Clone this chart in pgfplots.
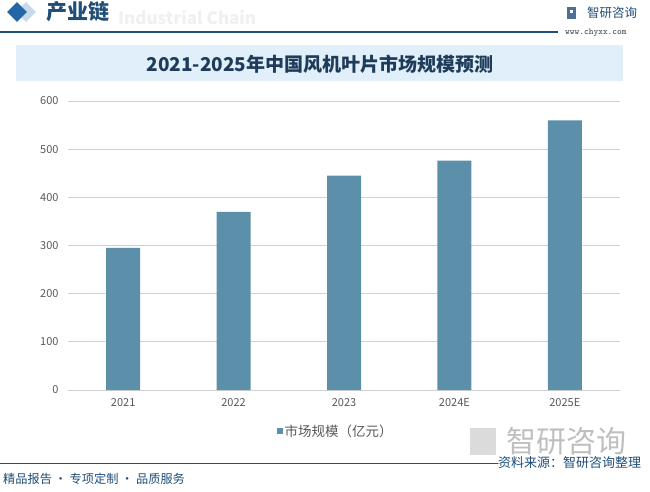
\documentclass[border=0pt]{standalone}
\usepackage{pgfplots}
\pgfplotsset{compat=1.18}
\usepackage{fontspec}
\setmainfont{Noto Sans CJK SC}
\usetikzlibrary{shapes.geometric}

\definecolor{barblue}{HTML}{5C8FA9}
\definecolor{headblue}{HTML}{1F4E79}
\definecolor{diablue}{HTML}{2366A6}
\definecolor{titleblue}{HTML}{1F3B5A}
\definecolor{bannerfill}{HTML}{E0EFF9}
\definecolor{ticktext}{HTML}{595959}

\begin{document}
\begin{tikzpicture}[x=1pt,y=1pt]
% page frame (1px = 1pt), y grows downwards as negative
\path[use as bounding box, fill=white] (0,0) rectangle (650,-492);

% header
\node[diamond, fill=diablue!25, minimum size=20pt, inner sep=0pt] at (26,-12) {};
\node[diamond, fill=diablue, minimum size=20pt, inner sep=0pt] at (17,-12) {};
\node[anchor=west, text=black!6, font=\bfseries\fontsize{17}{19}\selectfont, inner sep=0pt] at (118,-18) {Industrial Chain};
\node[anchor=west, text=headblue, font=\bfseries\fontsize{21}{23}\selectfont, inner sep=0pt] at (46,-12) {产业链};
\draw[headblue, line width=1.2pt] (0,-32) -- (558,-32);
\fill[headblue!80] (567,-7) rectangle (576,-19);
\fill[white] (570,-10) rectangle (573,-13);
\node[anchor=west, text=headblue, font=\fontsize{12.5}{14}\selectfont, inner sep=0pt] at (587,-13) {智研咨询};
\node[anchor=west, text=black!75, font=\ttfamily\fontsize{9}{11}\selectfont, inner sep=0pt] at (565,-33) {www.chyxx.com};

% title banner
\fill[bannerfill] (16,-45) rectangle (623,-81);
\node[text=titleblue, font=\bfseries\fontsize{19}{21}\selectfont] at (320,-64) {2021-2025年中国风机叶片市场规模预测};

% watermark logo bottom right
\node[anchor=west, text=black!25, font=\fontsize{30}{32}\selectfont, inner sep=0pt] at (506,-441) {智研咨询};
\fill[black!14] (470,-428) rectangle (496,-455);

\begin{axis}[
  at={(68pt,-390pt)}, anchor=south west,
  scale only axis, width=552pt, height=289pt,
  xmin=-0.5, xmax=4.5, ymin=0, ymax=600,
  ybar, bar width=34pt,
  xtick=data, xticklabels={2021,2022,2023,2024E,2025E},
  ytick={0,100,...,600},
  axis line style={draw=none},
  major tick length=0pt,
  ymajorgrids, grid style={black!18, line width=0.8pt},
  /pgf/number format/assume math mode=true,
  ticklabel style={text=ticktext, font=\fontsize{11}{13}\selectfont},
  yticklabel style={xshift=-6pt},
  xticklabel style={yshift=-5pt},
  legend style={at={(0.485,-0.142)}, anchor=center, draw=none, fill=none,
    font=\fontsize{13.5}{15}\selectfont, text=ticktext},
  legend image code/.code={\fill[barblue] (0pt,-3pt) rectangle (6pt,3pt);},
]
\addplot[fill=barblue, draw=none] coordinates {(0,295) (1,370) (2,445) (3,476) (4,560)};
\addlegendentry{市场规模（亿元）}
\end{axis}

% footer
\draw[headblue, line width=1pt] (0,-463) -- (500,-463);
\node[anchor=west, text=headblue, font=\fontsize{13}{15}\selectfont, inner sep=0pt, fill=white, fill opacity=0.6, text opacity=1] at (498,-463) {资料来源：智研咨询整理};
\node[anchor=west, text=headblue, font=\fontsize{12.2}{14}\selectfont, inner sep=0pt] at (3,-479) {精品报告 · 专项定制 · 品质服务};
\end{tikzpicture}
\end{document}
